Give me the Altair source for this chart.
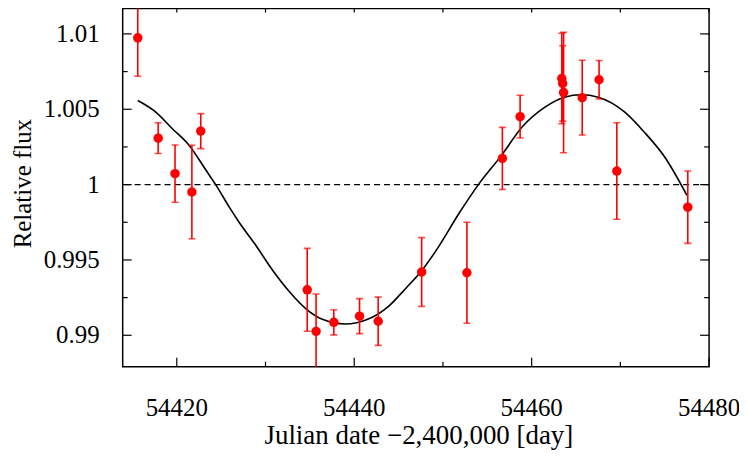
import altair as alt
import pandas as pd

# Observations (Julian date - 2,400,000), relative flux, 1-sigma error
jd = [54415.6, 54417.9, 54419.8, 54421.7, 54422.7, 54434.7, 54435.7, 54437.7,
      54440.6, 54442.7, 54447.6, 54452.7, 54456.7, 54458.7, 54463.4, 54463.5,
      54463.6, 54465.7, 54467.6, 54469.6, 54477.6]
flux = [1.00974, 1.00308, 1.00073, 0.99951, 1.00355, 0.99302, 0.99026, 0.99086,
        0.99127, 0.99093, 0.99420, 0.99415, 1.00174, 1.00451, 1.00704, 1.00671,
        1.00611, 1.00577, 1.00696, 1.00090, 0.99850]
flux_err = [0.00255, 0.00102, 0.00190, 0.00310, 0.00116, 0.00275, 0.00248, 0.00083,
            0.00116, 0.00160, 0.00228, 0.00335, 0.00206, 0.00142, 0.00300, 0.00250,
            0.00400, 0.00248, 0.00128, 0.00320, 0.00240]

# Fitted model curve
model_jd = [54415.6, 54417.5, 54419.5, 54421.4, 54423.3, 54424.4, 54425.9, 54427.0,
            54428.9, 54430.8, 54432.7, 54434.5, 54436.4, 54439.0, 54441.3, 54443.9,
            54445.8, 54447.6, 54449.5, 54451.8, 54454.0, 54456.6, 54458.9, 54461.5,
            54463.7, 54465.6, 54467.5, 54470.5, 54472.7, 54475.0, 54477.5]
model_flux = [1.00558, 1.00487, 1.00371, 1.00260, 1.00095, 0.99998, 0.99852, 0.99752,
              0.99598, 0.99432, 0.99289, 0.99179, 0.99106, 0.99075, 0.99101, 0.99194,
              0.99311, 0.99428, 0.99587, 0.99808, 1.00000, 1.00194, 1.00381, 1.00514,
              1.00580, 1.00596, 1.00580, 1.00481, 1.00348, 1.00183, 0.99929]

ref_level = [1.0]

x_major = [54420, 54440, 54460, 54480]
x_minor = [54430, 54450, 54470]
y_major = [0.99, 0.995, 1.0, 1.005, 1.01]
y_minor = [0.9925, 0.9975, 1.0025, 1.0075]

x_title = "Julian date \u22122,400,000 [day]"
y_title = "Relative flux"

W, H = 588, 359
FONT = "Liberation Serif, Times New Roman, serif"
RED = "#ff0000"

obs = pd.DataFrame({"x": jd, "y": flux, "e": flux_err})
obs["lo"] = obs["y"] - obs["e"]
obs["hi"] = obs["y"] + obs["e"]
model = pd.DataFrame({"x": model_jd, "y": model_flux})

xs = alt.Scale(domain=[54413.9, 54480], nice=False, zero=False)
ys = alt.Scale(domain=[0.98792, 1.01168], nice=False, zero=False)


def X(field="x"):
    return alt.X(f"{field}:Q", scale=xs, axis=None)


def Y(field="y"):
    return alt.Y(f"{field}:Q", scale=ys, axis=None)


# Reference level
ref = alt.Chart(pd.DataFrame({"y": ref_level})).mark_rule(
    color="black", strokeWidth=1.3, strokeDash=[6, 4]).encode(y=Y())

# Model curve
curve = alt.Chart(model).mark_line(color="black", strokeWidth=1.6,
                                   interpolate="monotone", clip=True).encode(x=X(), y=Y())

# Error bars
bars = alt.Chart(obs).mark_rule(color=RED, strokeWidth=1.6, clip=True).encode(
    x=X(), y=Y("lo"), y2="hi:Q")
cap_lo = alt.Chart(obs).mark_tick(color=RED, thickness=1.6, size=7, orient="horizontal",
                                  clip=True).encode(x=X(), y=Y("lo"))
cap_hi = alt.Chart(obs).mark_tick(color=RED, thickness=1.6, size=7, orient="horizontal",
                                  clip=True).encode(x=X(), y=Y("hi"))

# Points
pts = alt.Chart(obs).mark_circle(color=RED, size=90, opacity=1, clip=True).encode(
    x=X(), y=Y())


# Inward tick marks
def xt(vals, y0, y1):
    return alt.Chart(pd.DataFrame({"x": vals})).mark_rule(color="black", strokeWidth=1.2).encode(
        x=X(), y=alt.value(y0), y2=alt.value(y1))


def yt(vals, x0, x1):
    return alt.Chart(pd.DataFrame({"y": vals})).mark_rule(color="black", strokeWidth=1.2).encode(
        y=Y(), x=alt.value(x0), x2=alt.value(x1))


ticks = [
    xt(x_major, H, H - 9), xt(x_minor, H, H - 5),
    xt(x_major + x_minor, 0, 4),
    yt(y_major, 0, 9), yt(y_minor, 0, 5),
    yt(y_major, W, W - 9), yt(y_minor, W, W - 5),
]

# Tick labels
xlab = alt.Chart(pd.DataFrame({"x": x_major})).mark_text(
    font=FONT, fontSize=25, color="black", align="center", baseline="alphabetic").encode(
    x=X(), y=alt.value(H + 50), text=alt.Text("x:Q", format="d"))
ylab = alt.Chart(pd.DataFrame({"y": y_major})).mark_text(
    font=FONT, fontSize=25, color="black", align="right", baseline="middle").encode(
    y=Y(), x=alt.value(-23), text=alt.Text("y:Q", format="~g"))

# Axis titles
xtit = alt.Chart(pd.DataFrame({"t": [x_title]})).mark_text(
    font=FONT, fontSize=27, color="black", align="center", baseline="alphabetic").encode(
    x=alt.value(W / 2 + 3), y=alt.value(H + 78), text="t:N")
ytit = alt.Chart(pd.DataFrame({"t": [y_title]})).mark_text(
    font=FONT, fontSize=25, color="black", align="center", baseline="alphabetic",
    angle=270).encode(
    x=alt.value(-92), y=alt.value(H / 2 - 4), text="t:N")

chart = alt.layer(ref, curve, bars, cap_lo, cap_hi, pts, *ticks,
                  xlab, ylab, xtit, ytit).properties(
    width=W, height=H,
    autosize=alt.AutoSizeParams(type="none"),
    padding={"left": 115, "top": 0, "right": 30, "bottom": 87},
    background="white",
).configure_view(stroke="black", strokeWidth=1.5, fill="white")

chart.save("out.html", embed_options={"renderer": "svg", "actions": False})
